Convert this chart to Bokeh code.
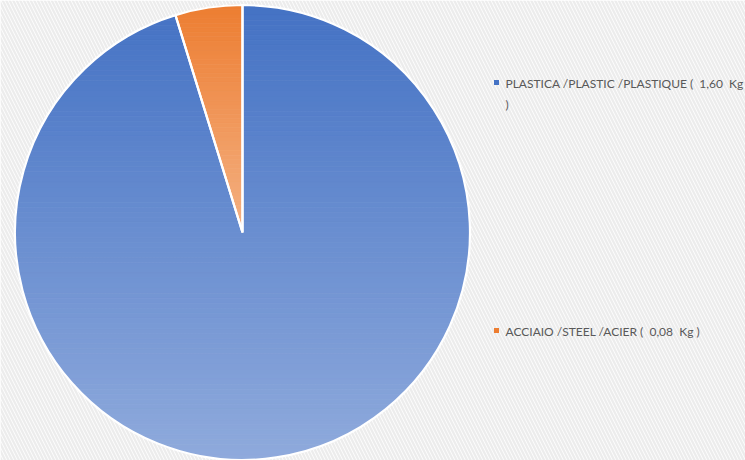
import numpy as np
from bokeh.plotting import figure
from bokeh.models import Range1d
from bokeh.core.properties import value
from bokeh.embed import file_html
from bokeh.resources import INLINE

# ---- data ----
categories = ["PLASTICA /PLASTIC /PLASTIQUE (  1,60  Kg\n)", "ACCIAIO /STEEL /ACIER (  0,08  Kg )"]
values = [1.60, 0.08]
top_colors = ["#4472C4", "#ED7D31"]
bottom_colors = ["#8FAADC", "#F4B183"]

W, H = 745, 460
CX, CY, R = 242, H - 232, 227.5

p = figure(width=W, height=H, output_backend="svg", toolbar_location=None,
           x_range=Range1d(0, W), y_range=Range1d(0, H), min_border=0)
p.axis.visible = False
p.grid.visible = False
p.outline_line_color = None
p.background_fill_color = "white"
p.border_fill_color = "white"

# striped background
p.quad(left=[0], right=[W], bottom=[0], top=[H], fill_color="#fcfcfc", line_color=None,
       hatch_pattern="\\", hatch_color="#ececec", hatch_scale=7, hatch_weight=2.2)


def hex2rgb(h):
    h = h.lstrip("#")
    return np.array([int(h[i:i + 2], 16) for i in (0, 2, 4)], dtype=float)


def rgb2hex(c):
    return "#%02x%02x%02x" % tuple(int(round(v)) for v in c)


def clip(poly, y0, keep_above):
    out = []
    n = len(poly)
    for i in range(n):
        a, b = poly[i], poly[(i + 1) % n]
        ina = a[1] >= y0 if keep_above else a[1] <= y0
        inb = b[1] >= y0 if keep_above else b[1] <= y0
        if ina:
            out.append(a)
        if ina != inb:
            t = (y0 - a[1]) / (b[1] - a[1])
            out.append((a[0] + t * (b[0] - a[0]), y0))
    return out


total = sum(values)
fr = np.array(values) / total
cum = np.concatenate([[0], np.cumsum(fr)])
starts = np.pi / 2 - cum[:-1] * 2 * np.pi
ends = np.pi / 2 - cum[1:] * 2 * np.pi

for i in range(len(values)):
    a0, a1 = starts[i], ends[i]
    th = np.linspace(a0, a1, 400)
    poly = [(CX, CY)] + [(CX + R * np.cos(t), CY + R * np.sin(t)) for t in th]
    ys = [pt[1] for pt in poly]
    ytop, ybot = max(ys), min(ys)
    if i == 0:
        ytop, ybot = CY + R, CY - R
    c_top, c_bot = hex2rgb(top_colors[i]), hex2rgb(bottom_colors[i])
    N = 90 if i == 0 else 50
    edges = np.linspace(ytop, ybot, N + 1)
    xs_l, ys_l, cols = [], [], []
    for k in range(N):
        band = clip(clip(poly, edges[k + 1], True), edges[k], False)
        if len(band) < 3:
            continue
        f = (k + 0.5) / N
        cols.append(rgb2hex(c_top + (c_bot - c_top) * f))
        xs_l.append([q[0] for q in band])
        ys_l.append([q[1] for q in band])
    p.patches(xs_l, ys_l, fill_color=cols, line_color=cols, line_width=0.8)

# white slice borders
p.wedge(x=[CX] * len(values), y=[CY] * len(values), radius=R,
        start_angle=list(ends), end_angle=list(starts),
        fill_color=None, line_color="white", line_width=2.2)

# legend (keep double spaces visible)
labels = [c.replace("  ", " \u00a0") for c in categories]
leg_y = [H - 82, H - 330]
p.scatter(x=[496, 496], y=leg_y, marker="square", size=5,
          fill_color=top_colors, line_color=None)
p.text(x=[505, 505], y=leg_y, text=labels, text_font=value("Lato"),
       text_font_size="12px", text_color="#595959", text_baseline="top",
       y_offset=-7, text_line_height=1.45)

open("out.html", "w").write(file_html(p, INLINE))
